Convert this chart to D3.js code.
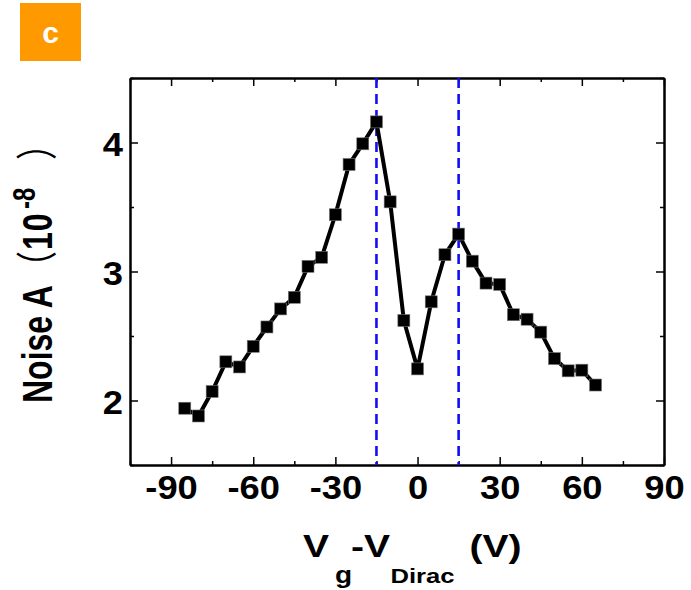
<!DOCTYPE html>
<html>
<head>
<meta charset="utf-8">
<script src="https://cdn.jsdelivr.net/npm/d3@7"></script>
<style>
  html, body { margin: 0; padding: 0; background: #fff; }
  svg { display: block; }
  text { font-family: "Liberation Sans", Arial, Helvetica, sans-serif; }
</style>
</head>
<body>
<svg id="chart" width="691" height="590"></svg>
<script>
// ---- data ----
const gateVoltage = [-85, -80, -75, -70, -65, -60, -55, -50, -45, -40, -35, -30, -25, -20, -15,
                     -10, -5, 0, 5, 10, 15, 20, 25, 30, 35, 40, 45, 50, 55, 60, 65];
const noiseA = [1.94, 1.88, 2.07, 2.30, 2.26, 2.42, 2.57, 2.71, 2.80, 3.04, 3.11, 3.44, 3.83, 3.99, 4.16,
                3.54, 2.62, 2.245, 2.765, 3.13, 3.29, 3.08, 2.91, 2.90, 2.665, 2.63, 2.53, 2.325, 2.23, 2.235, 2.12];
const dashedLineX = [-15, 15];
const xTicks = [-90, -60, -30, 0, 30, 60, 90];
const xMinorTicks = [-105, -75, -45, -15, 15, 45, 75];
const yTicks = [2, 3, 4];
const yMinorTicks = [1.5, 2.5, 3.5, 4.5];
const panelLabel = "c";

// ---- layout ----
const mLeft = 130, mRight = 664, mTop = 78, mBottom = 465;
const svg = d3.select("#chart");

const x = d3.scaleLinear().domain([-105, 90]).range([mLeft, mRight]);
const y = d3.scaleLinear().domain([1.5, 4.5]).range([mBottom, mTop]);

// panel label
svg.append("rect").attr("x", 20).attr("y", 3).attr("width", 61).attr("height", 58).attr("fill", "#ff9900");
svg.append("text").attr("x", 50.5).attr("y", 43).attr("text-anchor", "middle")
  .attr("font-size", 30).attr("font-weight", "bold").attr("fill", "#fff").text(panelLabel);

// axes (ticks inward on all sides)
const axisStyle = g => {
  g.attr("font-family", null);
  g.select(".domain").attr("stroke", "#000").attr("stroke-width", 2);
  g.selectAll(".tick line").attr("stroke", "#000").attr("stroke-width", 1.5);
};
const sxTick = 1.1;

// bottom
svg.append("g").attr("transform", `translate(0,${mBottom})`)
  .call(d3.axisBottom(x).tickValues(xMinorTicks).tickSize(-4).tickSizeOuter(0).tickFormat(""))
  .call(axisStyle);
const gx = svg.append("g").attr("transform", `translate(0,${mBottom})`)
  .call(d3.axisBottom(x).tickValues(xTicks).tickSize(-8).tickSizeOuter(0).tickFormat(d3.format("d")))
  .call(axisStyle);
gx.selectAll(".tick text").attr("y", 34).attr("dy", null)
  .attr("transform", `scale(${sxTick},1)`)
  .attr("font-size", 33).attr("font-weight", "bold").attr("fill", "#000")
  .text(d => d < 0 ? "-" + Math.abs(d) : d);

// top
svg.append("g").attr("transform", `translate(0,${mTop})`)
  .call(d3.axisTop(x).tickValues(xMinorTicks).tickSize(-4).tickSizeOuter(0).tickFormat(""))
  .call(axisStyle);
svg.append("g").attr("transform", `translate(0,${mTop})`)
  .call(d3.axisTop(x).tickValues(xTicks).tickSize(-8).tickSizeOuter(0).tickFormat(""))
  .call(axisStyle);

// left
svg.append("g").attr("transform", `translate(${mLeft},0)`)
  .call(d3.axisLeft(y).tickValues(yMinorTicks).tickSize(-4).tickSizeOuter(0).tickFormat(""))
  .call(axisStyle);
const gy = svg.append("g").attr("transform", `translate(${mLeft},0)`)
  .call(d3.axisLeft(y).tickValues(yTicks).tickSize(-8).tickSizeOuter(0).tickFormat(d3.format("d")))
  .call(axisStyle);
gy.selectAll(".tick text").attr("x", -7 / sxTick).attr("dy", "0.4em")
  .attr("transform", `scale(${sxTick},1)`)
  .attr("font-size", 33).attr("font-weight", "bold").attr("fill", "#000");

// right
svg.append("g").attr("transform", `translate(${mRight},0)`)
  .call(d3.axisRight(y).tickValues(yMinorTicks).tickSize(-4).tickSizeOuter(0).tickFormat(""))
  .call(axisStyle);
svg.append("g").attr("transform", `translate(${mRight},0)`)
  .call(d3.axisRight(y).tickValues(yTicks).tickSize(-8).tickSizeOuter(0).tickFormat(""))
  .call(axisStyle);

// dashed reference lines
svg.selectAll(".vref").data(dashedLineX).enter().append("line")
  .attr("class", "vref")
  .attr("x1", d => x(d)).attr("x2", d => x(d))
  .attr("y1", mTop).attr("y2", mBottom)
  .attr("stroke", "#1010ee").attr("stroke-width", 2.6)
  .attr("stroke-dasharray", "10,6");

// data line
const pts = gateVoltage.map((v, i) => [v, noiseA[i]]);
svg.append("path").datum(pts)
  .attr("fill", "none").attr("stroke", "#000").attr("stroke-width", 4)
  .attr("stroke-linejoin", "round")
  .attr("d", d3.line().x(d => x(d[0])).y(d => y(d[1])));

// markers
const ms = 12;
svg.selectAll(".pt").data(pts).enter().append("rect")
  .attr("class", "pt")
  .attr("x", d => x(d[0]) - ms / 2).attr("y", d => y(d[1]) - ms / 2)
  .attr("width", ms).attr("height", ms)
  .attr("fill", "#000").attr("stroke", "#777").attr("stroke-width", 0.6);

// x title (horizontally stretched like the original)
const sxT = 1.22;
const xt = svg.append("text").attr("transform", `scale(${sxT},1)`)
  .attr("font-weight", "bold").attr("fill", "#000");
xt.append("tspan").attr("x", 303 / sxT).attr("y", 557).attr("font-size", 32).text("V");
xt.append("tspan").attr("x", 335 / sxT).attr("y", 583).attr("font-size", 23).text("g");
xt.append("tspan").attr("x", 351 / sxT).attr("y", 557).attr("font-size", 32).text("-V");
xt.append("tspan").attr("x", 390.5 / sxT).attr("y", 583).attr("font-size", 21).text("Dirac");
xt.append("tspan").attr("x", 469.5 / sxT).attr("y", 557).attr("font-size", 32).text("(V)");

// y title (rotated, stretched across)
const syT = 1.3;
const yt = svg.append("text").attr("transform", `translate(52,0) rotate(-90) scale(1,${syT})`)
  .attr("font-weight", "bold").attr("fill", "#000").attr("font-size", 32);
yt.append("tspan").attr("x", -403).attr("y", 0).text("Noise A");
yt.append("tspan").attr("x", -283).attr("y", 0)
  .attr("font-family", "'Noto Sans CJK SC'").attr("font-weight", "normal").text("（");
yt.append("tspan").attr("x", -250).attr("y", 0).attr("letter-spacing", 1).text("10");
yt.append("tspan").attr("x", -209).attr("y", -13).attr("font-size", 24).text("-8");
yt.append("tspan").attr("x", -160).attr("y", 0)
  .attr("font-family", "'Noto Sans CJK SC'").attr("font-weight", "normal").text("）");
</script>
</body>
</html>
